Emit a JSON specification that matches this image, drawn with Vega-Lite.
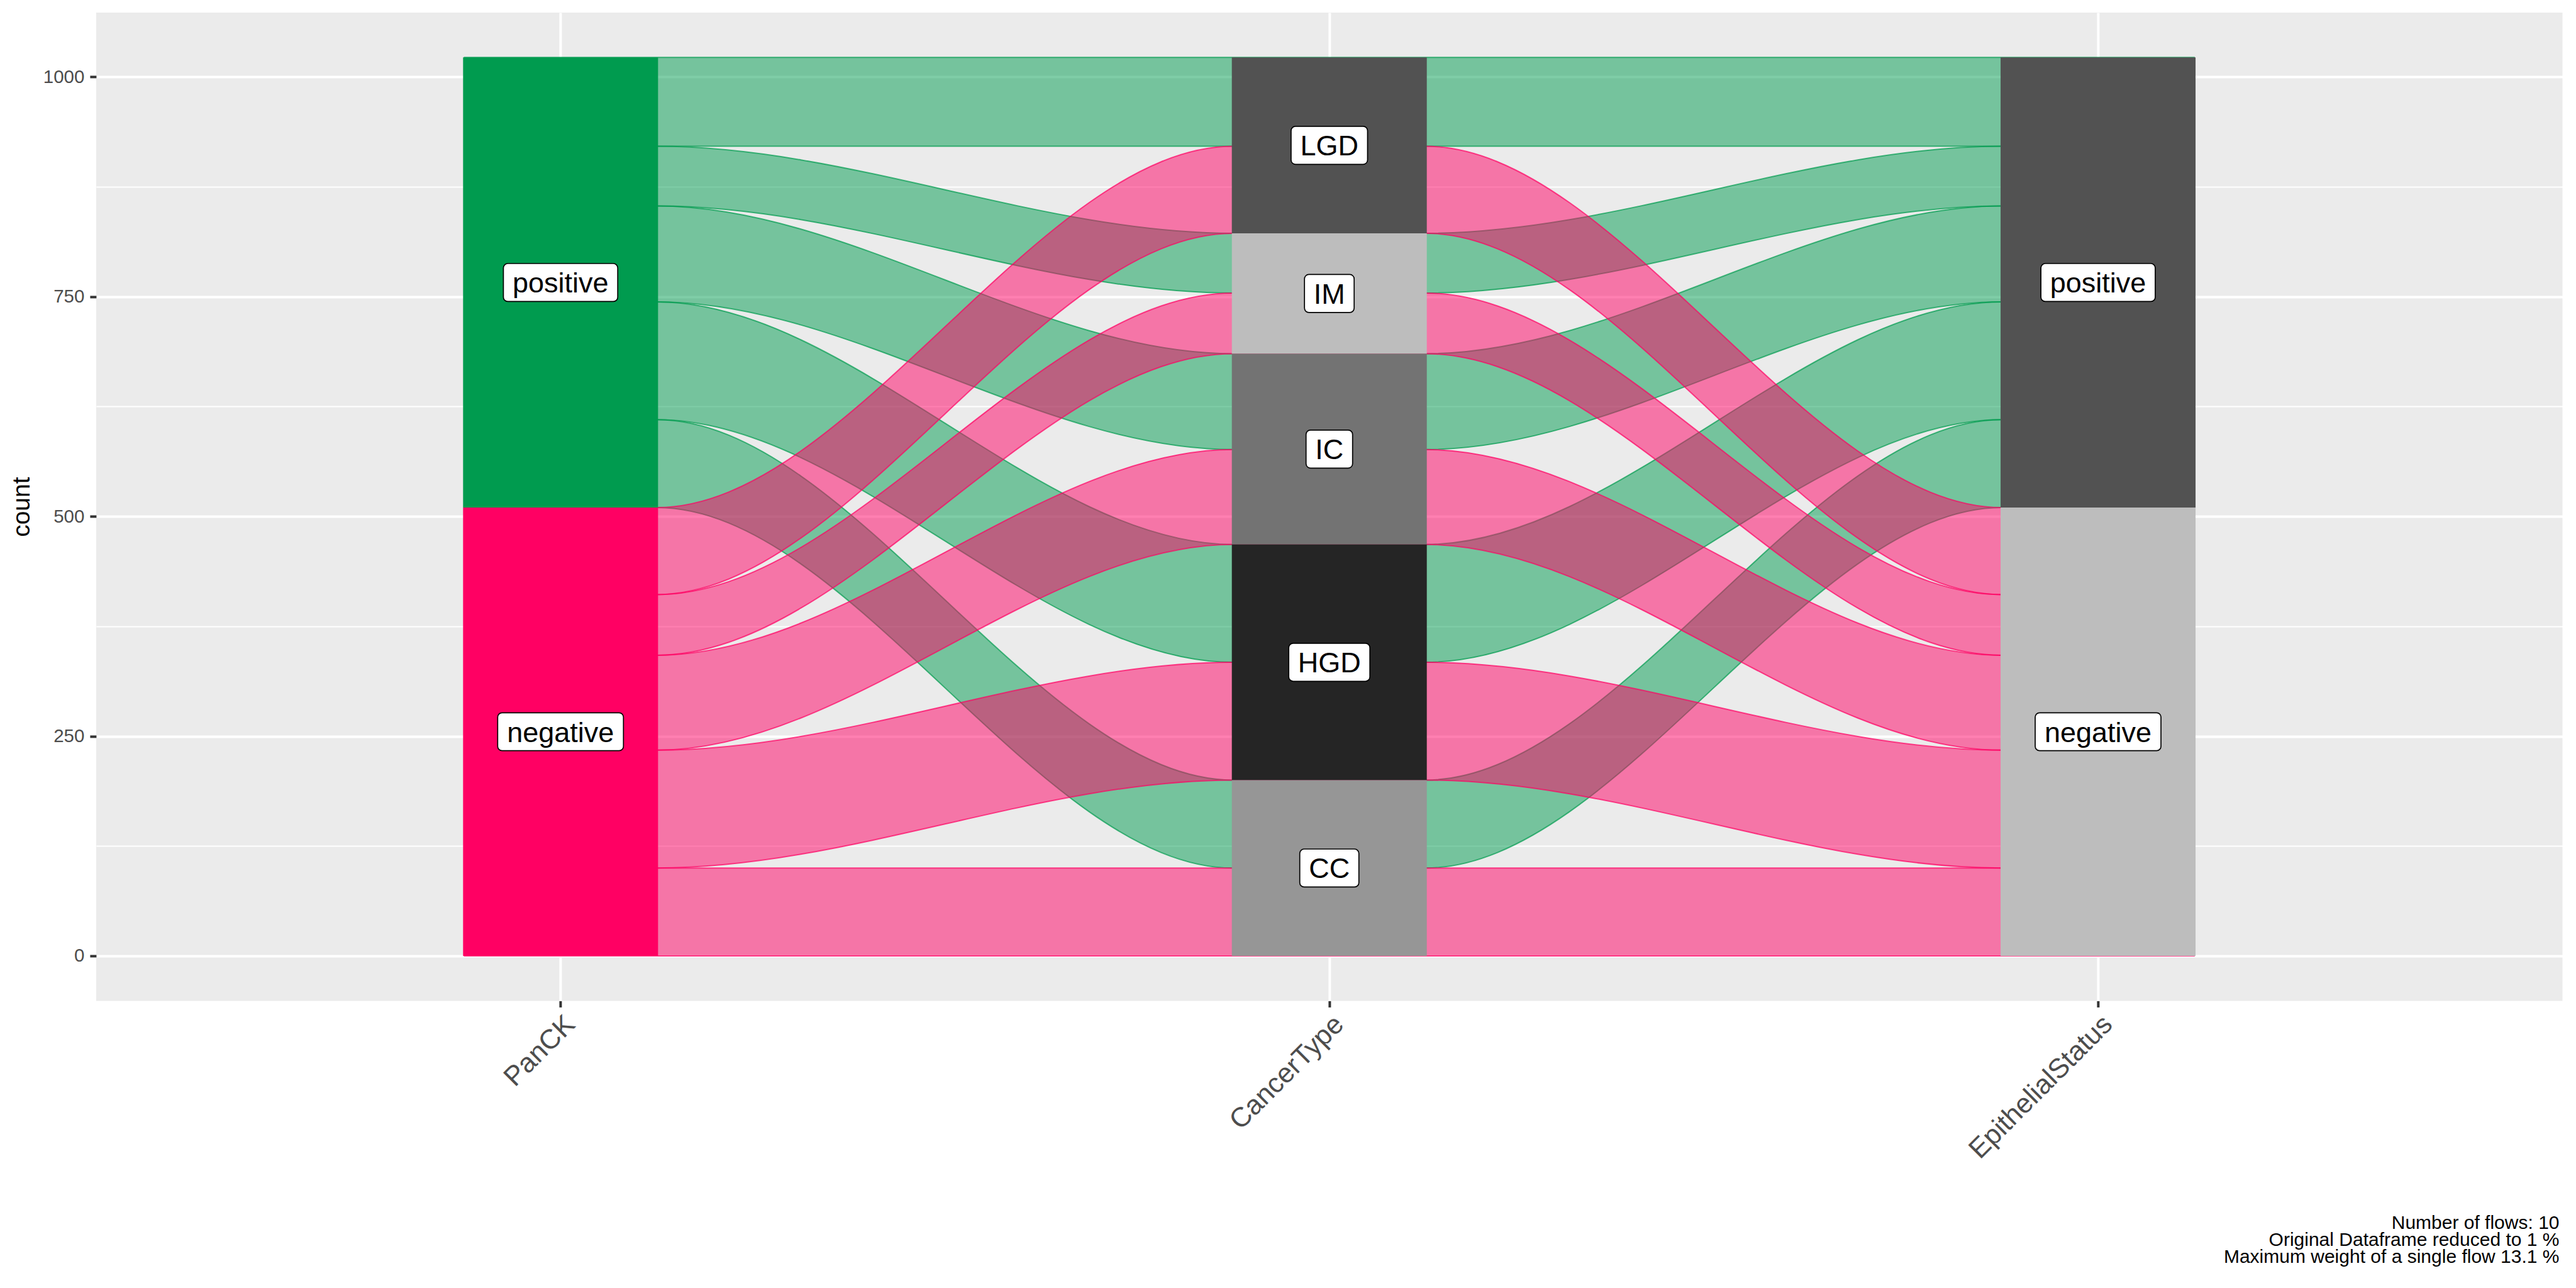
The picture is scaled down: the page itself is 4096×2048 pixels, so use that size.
{
  "$schema": "https://vega.github.io/schema/vega-lite/v6.json",
  "width": 3921.6,
  "height": 1571.5,
  "autosize": {"type": "none"},
  "padding": {"left": 152.9, "top": 19.9, "right": 21.5, "bottom": 456.6},
  "background": "#FFFFFF",
  "config": {"view": {"stroke": null, "fill": "#EBEBEB"}, "font": "Liberation Sans"},
  "title": {
    "text": ["Number of flows: 10", "Original Dataframe reduced to 1 %", "Maximum weight of a single flow 13.1 %"],
    "orient": "bottom", "anchor": "end", "frame": "group", "offset": 80, "dx": -5,
    "fontSize": 30, "fontWeight": "normal", "color": "#000000", "lineHeight": 26.8,
    "font": "Liberation Sans", "baseline": "top", "align": "right"
  },
  "datasets": {
    "flows": [
      {"f": "pos_LGD", "p": "positive", "x": 0.875, "lo": 921, "hi": 1022},
      {"f": "pos_LGD", "p": "positive", "x": 1.125, "lo": 921, "hi": 1022},
      {"f": "pos_LGD", "p": "positive", "x": 1.875, "lo": 921, "hi": 1022},
      {"f": "pos_LGD", "p": "positive", "x": 2.125, "lo": 921, "hi": 1022},
      {"f": "pos_LGD", "p": "positive", "x": 2.875, "lo": 921, "hi": 1022},
      {"f": "pos_LGD", "p": "positive", "x": 3.125, "lo": 921, "hi": 1022},
      {"f": "pos_IM", "p": "positive", "x": 0.875, "lo": 853, "hi": 921},
      {"f": "pos_IM", "p": "positive", "x": 1.125, "lo": 853, "hi": 921},
      {"f": "pos_IM", "p": "positive", "x": 1.875, "lo": 754, "hi": 822},
      {"f": "pos_IM", "p": "positive", "x": 2.125, "lo": 754, "hi": 822},
      {"f": "pos_IM", "p": "positive", "x": 2.875, "lo": 853, "hi": 921},
      {"f": "pos_IM", "p": "positive", "x": 3.125, "lo": 853, "hi": 921},
      {"f": "pos_IC", "p": "positive", "x": 0.875, "lo": 744, "hi": 853},
      {"f": "pos_IC", "p": "positive", "x": 1.125, "lo": 744, "hi": 853},
      {"f": "pos_IC", "p": "positive", "x": 1.875, "lo": 576, "hi": 685},
      {"f": "pos_IC", "p": "positive", "x": 2.125, "lo": 576, "hi": 685},
      {"f": "pos_IC", "p": "positive", "x": 2.875, "lo": 744, "hi": 853},
      {"f": "pos_IC", "p": "positive", "x": 3.125, "lo": 744, "hi": 853},
      {"f": "pos_HGD", "p": "positive", "x": 0.875, "lo": 610, "hi": 744},
      {"f": "pos_HGD", "p": "positive", "x": 1.125, "lo": 610, "hi": 744},
      {"f": "pos_HGD", "p": "positive", "x": 1.875, "lo": 334, "hi": 468},
      {"f": "pos_HGD", "p": "positive", "x": 2.125, "lo": 334, "hi": 468},
      {"f": "pos_HGD", "p": "positive", "x": 2.875, "lo": 610, "hi": 744},
      {"f": "pos_HGD", "p": "positive", "x": 3.125, "lo": 610, "hi": 744},
      {"f": "pos_CC", "p": "positive", "x": 0.875, "lo": 510, "hi": 610},
      {"f": "pos_CC", "p": "positive", "x": 1.125, "lo": 510, "hi": 610},
      {"f": "pos_CC", "p": "positive", "x": 1.875, "lo": 100, "hi": 200},
      {"f": "pos_CC", "p": "positive", "x": 2.125, "lo": 100, "hi": 200},
      {"f": "pos_CC", "p": "positive", "x": 2.875, "lo": 510, "hi": 610},
      {"f": "pos_CC", "p": "positive", "x": 3.125, "lo": 510, "hi": 610},
      {"f": "neg_LGD", "p": "negative", "x": 0.875, "lo": 411, "hi": 510},
      {"f": "neg_LGD", "p": "negative", "x": 1.125, "lo": 411, "hi": 510},
      {"f": "neg_LGD", "p": "negative", "x": 1.875, "lo": 822, "hi": 921},
      {"f": "neg_LGD", "p": "negative", "x": 2.125, "lo": 822, "hi": 921},
      {"f": "neg_LGD", "p": "negative", "x": 2.875, "lo": 411, "hi": 510},
      {"f": "neg_LGD", "p": "negative", "x": 3.125, "lo": 411, "hi": 510},
      {"f": "neg_IM", "p": "negative", "x": 0.875, "lo": 342, "hi": 411},
      {"f": "neg_IM", "p": "negative", "x": 1.125, "lo": 342, "hi": 411},
      {"f": "neg_IM", "p": "negative", "x": 1.875, "lo": 685, "hi": 754},
      {"f": "neg_IM", "p": "negative", "x": 2.125, "lo": 685, "hi": 754},
      {"f": "neg_IM", "p": "negative", "x": 2.875, "lo": 342, "hi": 411},
      {"f": "neg_IM", "p": "negative", "x": 3.125, "lo": 342, "hi": 411},
      {"f": "neg_IC", "p": "negative", "x": 0.875, "lo": 234, "hi": 342},
      {"f": "neg_IC", "p": "negative", "x": 1.125, "lo": 234, "hi": 342},
      {"f": "neg_IC", "p": "negative", "x": 1.875, "lo": 468, "hi": 576},
      {"f": "neg_IC", "p": "negative", "x": 2.125, "lo": 468, "hi": 576},
      {"f": "neg_IC", "p": "negative", "x": 2.875, "lo": 234, "hi": 342},
      {"f": "neg_IC", "p": "negative", "x": 3.125, "lo": 234, "hi": 342},
      {"f": "neg_HGD", "p": "negative", "x": 0.875, "lo": 100, "hi": 234},
      {"f": "neg_HGD", "p": "negative", "x": 1.125, "lo": 100, "hi": 234},
      {"f": "neg_HGD", "p": "negative", "x": 1.875, "lo": 200, "hi": 334},
      {"f": "neg_HGD", "p": "negative", "x": 2.125, "lo": 200, "hi": 334},
      {"f": "neg_HGD", "p": "negative", "x": 2.875, "lo": 100, "hi": 234},
      {"f": "neg_HGD", "p": "negative", "x": 3.125, "lo": 100, "hi": 234},
      {"f": "neg_CC", "p": "negative", "x": 0.875, "lo": 0, "hi": 100},
      {"f": "neg_CC", "p": "negative", "x": 1.125, "lo": 0, "hi": 100},
      {"f": "neg_CC", "p": "negative", "x": 1.875, "lo": 0, "hi": 100},
      {"f": "neg_CC", "p": "negative", "x": 2.125, "lo": 0, "hi": 100},
      {"f": "neg_CC", "p": "negative", "x": 2.875, "lo": 0, "hi": 100},
      {"f": "neg_CC", "p": "negative", "x": 3.125, "lo": 0, "hi": 100}
    ],
    "strata": [
      {"node": "PanCK positive", "stratum": "positive", "x": 1, "lo": 510, "hi": 1022, "mid": 766},
      {"node": "PanCK negative", "stratum": "negative", "x": 1, "lo": 0, "hi": 510, "mid": 255},
      {"node": "CancerType LGD", "stratum": "LGD", "x": 2, "lo": 822, "hi": 1022, "mid": 922},
      {"node": "CancerType IM", "stratum": "IM", "x": 2, "lo": 685, "hi": 822, "mid": 753.5},
      {"node": "CancerType IC", "stratum": "IC", "x": 2, "lo": 468, "hi": 685, "mid": 576.5},
      {"node": "CancerType HGD", "stratum": "HGD", "x": 2, "lo": 200, "hi": 468, "mid": 334},
      {"node": "CancerType CC", "stratum": "CC", "x": 2, "lo": 0, "hi": 200, "mid": 100},
      {"node": "EpithelialStatus positive", "stratum": "positive", "x": 3, "lo": 510, "hi": 1022, "mid": 766},
      {"node": "EpithelialStatus negative", "stratum": "negative", "x": 3, "lo": 0, "hi": 510, "mid": 255}
    ]
  },
  "encoding": {
    "x": {
      "field": "x", "type": "quantitative",
      "scale": {"domain": [0.4, 3.6], "nice": false, "zero": false},
      "axis": {
        "values": [1, 2, 3],
        "labelExpr": "datum.value == 1 ? 'PanCK' : datum.value == 2 ? 'CancerType' : 'EpithelialStatus'",
        "title": null, "domain": false,
        "tickSize": 10, "tickWidth": 4, "tickColor": "#333333",
        "grid": true, "gridColor": "#FFFFFF", "gridWidth": 4,
        "labelAngle": -45, "labelAlign": "right", "labelBaseline": "top",
        "labelPadding": 5, "labelFontSize": 43.7, "labelColor": "#4D4D4D", "labelFont": "Liberation Sans",
        "labelOverlap": false, "labelFlush": false, "labelBound": false, "labelLimit": 0
      }
    }
  },
  "resolve": {"axis": {"y": "independent"}},
  "layer": [
    {
      "data": {"name": "flows"},
      "transform": [{"filter": "datum.p === 'positive'"}],
      "mark": {"type": "area", "interpolate": "monotone", "fill": "#009B4F", "fillOpacity": 0.5, "stroke": "#009B4F", "strokeOpacity": 0.7, "strokeWidth": 2},
      "encoding": {
        "y": {
          "field": "lo", "type": "quantitative", "stack": null,
          "scale": {"domain": [-51.1, 1073.1], "nice": false, "zero": false},
          "axis": {"orient": "left", "values": [125, 375, 625, 875], "labels": false, "ticks": false, "domain": false, "title": null, "grid": true, "gridColor": "#FFFFFF", "gridWidth": 2}
        },
        "y2": {"field": "hi"},
        "detail": {"field": "f", "type": "nominal"}
      }
    },
    {
      "data": {"name": "flows"},
      "transform": [{"filter": "datum.p === 'negative'"}],
      "mark": {"type": "area", "interpolate": "monotone", "fill": "#FF0063", "fillOpacity": 0.5, "stroke": "#FF0063", "strokeOpacity": 0.7, "strokeWidth": 2},
      "encoding": {
        "y": {"field": "lo", "type": "quantitative", "stack": null, "axis": null},
        "y2": {"field": "hi"},
        "detail": {"field": "f", "type": "nominal"}
      }
    },
    {
      "data": {"name": "strata"},
      "mark": {"type": "bar", "width": 310, "orient": "vertical"},
      "encoding": {
        "y": {
          "field": "lo", "type": "quantitative", "stack": null,
          "axis": {
            "orient": "left", "values": [0, 250, 500, 750, 1000], "format": "d",
            "title": "count", "titleFontSize": 39, "titleFontWeight": "normal", "titleColor": "#000000", "titleFont": "Liberation Sans",
            "titleX": -106, "titleY": 785.75, "titleAngle": 270, "titleBaseline": "alphabetic", "titleAlign": "center",
            "labelFontSize": 29.5, "labelColor": "#4D4D4D", "labelFont": "Liberation Sans", "labelPadding": 9,
            "tickSize": 10, "tickWidth": 4, "tickColor": "#333333", "domain": false,
            "grid": true, "gridColor": "#FFFFFF", "gridWidth": 4
          }
        },
        "y2": {"field": "hi"},
        "color": {
          "field": "node", "type": "nominal", "legend": null,
          "scale": {
            "domain": ["PanCK positive", "PanCK negative", "CancerType LGD", "CancerType IM", "CancerType IC", "CancerType HGD", "CancerType CC", "EpithelialStatus positive", "EpithelialStatus negative"],
            "range": ["#009B4F", "#FF0063", "#525252", "#BDBDBD", "#737373", "#252525", "#969696", "#525252", "#BDBDBD"]
          }
        }
      }
    },
    {
      "data": {"name": "strata"},
      "mark": {"type": "point", "filled": true, "size": 4, "fill": "#FFFFFF", "stroke": "#000000", "strokeWidth": 1.7, "opacity": 1, "fillOpacity": 1, "strokeOpacity": 1},
      "encoding": {
        "y": {"field": "mid", "type": "quantitative", "axis": null},
        "shape": {
          "field": "stratum", "type": "nominal", "legend": null,
          "scale": {
            "domain": ["positive", "negative", "LGD", "IM", "IC", "HGD", "CC"],
            "range": [
              "M-83.9,-30.2H83.9A7,7 0 0 1 90.9,-23.2V23.2A7,7 0 0 1 83.9,30.2H-83.9A7,7 0 0 1 -90.9,23.2V-23.2A7,7 0 0 1 -83.9,-30.2Z",
              "M-93,-30.2H93A7,7 0 0 1 100,-23.2V23.2A7,7 0 0 1 93,30.2H-93A7,7 0 0 1 -100,23.2V-23.2A7,7 0 0 1 -93,-30.2Z",
              "M-53.8,-30.2H53.8A7,7 0 0 1 60.8,-23.2V23.2A7,7 0 0 1 53.8,30.2H-53.8A7,7 0 0 1 -60.8,23.2V-23.2A7,7 0 0 1 -53.8,-30.2Z",
              "M-32.5,-30.2H32.5A7,7 0 0 1 39.5,-23.2V23.2A7,7 0 0 1 32.5,30.2H-32.5A7,7 0 0 1 -39.5,23.2V-23.2A7,7 0 0 1 -32.5,-30.2Z",
              "M-30,-30.2H30A7,7 0 0 1 37,-23.2V23.2A7,7 0 0 1 30,30.2H-30A7,7 0 0 1 -37,23.2V-23.2A7,7 0 0 1 -30,-30.2Z",
              "M-57.5,-30.2H57.5A7,7 0 0 1 64.5,-23.2V23.2A7,7 0 0 1 57.5,30.2H-57.5A7,7 0 0 1 -64.5,23.2V-23.2A7,7 0 0 1 -57.5,-30.2Z",
              "M-40,-30.2H40A7,7 0 0 1 47,-23.2V23.2A7,7 0 0 1 40,30.2H-40A7,7 0 0 1 -47,23.2V-23.2A7,7 0 0 1 -40,-30.2Z"
            ]
          }
        }
      }
    },
    {
      "data": {"name": "strata"},
      "mark": {"type": "text", "font": "Liberation Sans", "fontSize": 45, "color": "#000000", "baseline": "alphabetic", "align": "center", "dy": 16},
      "encoding": {
        "y": {"field": "mid", "type": "quantitative", "axis": null},
        "text": {"field": "stratum", "type": "nominal"}
      }
    }
  ]
}
